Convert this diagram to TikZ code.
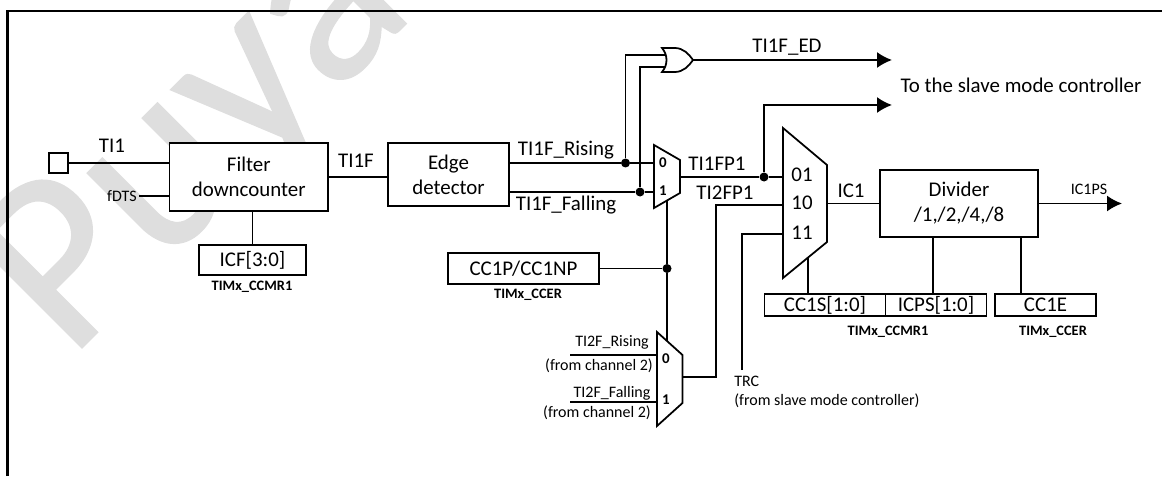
\documentclass[tikz,border=0pt]{standalone}
\usepackage{fontspec}
\setmainfont{Carlito}
\newfontfamily\markfont[FakeBold=0.5]{Carlito}
\usepackage{tikz}
\usetikzlibrary{arrows.meta,positioning,calc}
\definecolor{markgray}{HTML}{DEDEDE}
\tikzset{
  regbox/.style={draw,line width=1pt,fill=white,align=center,inner sep=0pt,font=\fontsize{11.9}{14.2}\selectfont},
  siglabel/.style={font=\fontsize{11.9}{14}\selectfont,inner sep=0pt},
  smalllabel/.style={font=\fontsize{9.1}{10.8}\selectfont,inner sep=0pt},
  reglabel/.style={font=\fontsize{8.2}{10}\selectfont\bfseries,inner sep=0pt},
  muxbit/.style={font=\fontsize{8.5}{10}\selectfont\bfseries,inner sep=0pt},
  wire/.style={line width=1pt},
  muxshape/.style={draw,line width=1pt,fill=white},
  outarrow/.style={line width=1pt,-{Latex[length=3mm,width=3.2mm]}},
  joindot/.style={circle,fill=black,inner sep=0pt,minimum size=1.8mm}
}
\begin{document}
\begin{tikzpicture}[x=1cm,y=1cm]
  \useasboundingbox (0,0) rectangle (23.24,9.52);
  % watermark behind everything
  \begin{scope}
    \clip (0,0) rectangle (23.24,9.52);
    \node[rotate=45,anchor=base west,inner sep=0pt,text=markgray,
          font=\markfont\fontsize{143}{143}\selectfont] (wmark) at (1.38,2.30) {Puya};
  \end{scope}
  \draw[line width=1.2pt] (0.15,0) -- (0.15,9.3) -- (23.24,9.3);

  % boxes
  \node[regbox,minimum width=0.39cm,minimum height=0.39cm] (pad) at (1.17,6.26) {};
  \node[regbox,minimum width=3.17cm,minimum height=1.35cm] (filter) at (4.975,5.98) {Filter\\downcounter};
  \node[regbox,minimum width=2.14cm,minimum height=0.6cm] (icf) at (5.05,4.32) {ICF[3:0]};
  \node[regbox,minimum width=2.42cm,minimum height=1.26cm] (edge) at (8.97,6.03) {Edge\\detector};
  \node[regbox,minimum width=3.02cm,minimum height=0.62cm] (ccnp) at (10.47,4.15) {CC1P/CC1NP};
  \node[regbox,minimum width=3.16cm,minimum height=1.34cm] (divider) at (19.18,5.45) {Divider\\/1,/2,/4,/8};
  \node[regbox,minimum width=2.42cm,minimum height=0.44cm] (ccs) at (16.5,3.42) {CC1S[1:0]};
  \node[regbox,minimum width=2.02cm,minimum height=0.44cm] (icps) at (18.72,3.42) {ICPS[1:0]};
  \node[regbox,minimum width=2.02cm,minimum height=0.44cm] (cce) at (20.91,3.42) {CC1E};

  % the three muxes and the OR gate
  \draw[muxshape] (13.08,6.62) -- (13.6,6.32) -- (13.6,5.66) -- (13.08,5.36) -- cycle;
  \draw[muxshape] (15.66,6.96) -- (16.54,6.22) -- (16.54,4.68) -- (15.66,3.96) -- cycle;
  \draw[muxshape] (13.14,2.88) -- (13.65,2.42) -- (13.65,1.46) -- (13.14,1.0) -- cycle;
  \draw[muxshape] (13.24,8.56) -- (13.5,8.56) .. controls (13.66,8.56) and (13.78,8.44) .. (13.86,8.32)
    .. controls (13.78,8.2) and (13.66,8.08) .. (13.5,8.08) -- (13.24,8.08)
    .. controls (13.36,8.22) and (13.36,8.42) .. (13.24,8.56) -- cycle;

  % ports
  \coordinate (muxAin0) at (13.08,6.26);
  \coordinate (muxAin1) at (13.08,5.68);
  \coordinate (muxAout) at (13.6,5.98);
  \coordinate (muxAsel) at (13.34,5.51);
  \coordinate (muxBin0) at (15.66,5.98);
  \coordinate (muxBin1) at (15.66,5.42);
  \coordinate (muxBin2) at (15.66,4.84);
  \coordinate (muxBout) at (16.54,5.45);
  \coordinate (muxBsel) at (16.16,4.37);
  \coordinate (muxCin0) at (13.14,2.42);
  \coordinate (muxCin1) at (13.14,1.48);
  \coordinate (muxCout) at (13.65,1.98);
  \coordinate (muxCsel) at (13.34,2.70);
  \coordinate (orin0) at (13.3,8.42);
  \coordinate (orin1) at (13.3,8.18);
  \coordinate (orout) at (13.86,8.32);

  % joins
  \node[joindot] (riseJoin) at (12.51,6.26) {};
  \node[joindot] (fallJoin) at (12.8,5.68) {};
  \node[joindot] (fpJoin) at (15.28,5.98) {};
  \node[joindot] (polJoin) at (13.34,4.15) {};

  % free ends
  \coordinate (edOut) at (17.84,8.32);
  \coordinate (slaveOut) at (17.84,7.42);
  \coordinate (psOut) at (22.44,5.45);
  \coordinate (fdtsEnd) at (2.78,5.6);
  \coordinate (riseEnd) at (11.4,2.42);
  \coordinate (fallEnd) at (11.4,1.48);
  \coordinate (trcEnd) at (14.84,2.12);

  % wires
  \draw[wire] (pad.east) -- (pad.east -| filter.west);
  \draw[wire] (fdtsEnd) -- (fdtsEnd -| filter.west);
  \draw[wire] (icf.north) -- (icf.north |- filter.south);
  \draw[wire] (filter.east) -- (filter.east -| edge.west);
  \draw[wire] (riseJoin -| edge.east) -- (riseJoin) -- (muxAin0);
  \draw[wire] (fallJoin -| edge.east) -- (fallJoin) -- (muxAin1);
  \draw[wire] (riseJoin) |- (orin0);
  \draw[wire] (fallJoin) |- (orin1);
  \draw[outarrow] (orout) -- (edOut);
  \draw[wire] (muxAout) -- (fpJoin) -- (muxBin0);
  \draw[outarrow] (fpJoin) |- (slaveOut);
  \draw[wire] (muxAsel) -- (polJoin) -- (muxCsel);
  \draw[wire] (ccnp.east) -- (polJoin);
  \draw[wire] (riseEnd) -- (muxCin0);
  \draw[wire] (fallEnd) -- (muxCin1);
  \draw[wire] (muxCout) -| (14.32,5.42) -- (muxBin1);
  \draw[wire] (trcEnd) |- (muxBin2);
  \draw[wire] (muxBout) -- (muxBout -| divider.west);
  \draw[wire] (muxBsel) -- (muxBsel |- ccs.north);
  \draw[wire] ([xshift=-0.6mm]icps.north) -- ([xshift=-0.6mm]icps.north |- divider.south);
  \draw[wire] ([xshift=-4.9mm]cce.north) -- ([xshift=-4.9mm]cce.north |- divider.south);
  \draw[outarrow] (divider.east |- muxBout) -- (psOut);

  % labels
  \node[siglabel] (ti1Text) at (2.24,6.6) {TI1};
  \node[smalllabel] (fdtsText) at (2.44,5.6) {fDTS};
  \node[siglabel] (tifText) at (7.12,6.3) {TI1F};
  \node[siglabel] (riseText) at (11.32,6.52) {TI1F\_Rising};
  \node[siglabel] (fallText) at (11.32,5.42) {TI1F\_Falling};
  \node[siglabel] (fpOneText) at (14.34,6.24) {TI1FP1};
  \node[siglabel] (fpTwoText) at (14.5,5.66) {TI2FP1};
  \node[siglabel] (edText) at (15.74,8.58) {TI1F\_ED};
  \node[siglabel] (slaveText) at (20.42,7.82) {To the slave mode controller};
  \node[siglabel] (icText) at (17.02,5.7) {IC1};
  \node[smalllabel] (psText) at (21.78,5.74) {IC1PS};
  \node[siglabel] (bitA) at (16.04,6.02) {01};
  \node[siglabel] (bitB) at (16.04,5.46) {10};
  \node[siglabel] (bitC) at (16.04,4.86) {11};
  \node[muxbit] (bitD) at (13.26,6.26) {0};
  \node[muxbit] (bitE) at (13.26,5.7) {1};
  \node[muxbit] (bitF) at (13.32,2.34) {0};
  \node[muxbit] (bitG) at (13.32,1.52) {1};
  \node[reglabel] (regA) at (5.04,3.78) {TIMx\_CCMR1};
  \node[reglabel] (regB) at (10.56,3.62) {TIMx\_CCER};
  \node[reglabel] (regC) at (17.76,2.88) {TIMx\_CCMR1};
  \node[reglabel] (regD) at (21.06,2.88) {TIMx\_CCER};
  \node[smalllabel] (riseTwoText) at (12.24,2.68) {TI2F\_Rising};
  \node[smalllabel] (fromOneText) at (11.98,2.2) {(from channel 2)};
  \node[smalllabel] (fallTwoText) at (12.24,1.66) {TI2F\_Falling};
  \node[smalllabel] (fromTwoText) at (11.94,1.26) {(from channel 2)};
  \node[smalllabel,anchor=west,align=left] (trcText) at (14.68,1.68) {TRC\\(from slave mode controller)};
\end{tikzpicture}
\end{document}
